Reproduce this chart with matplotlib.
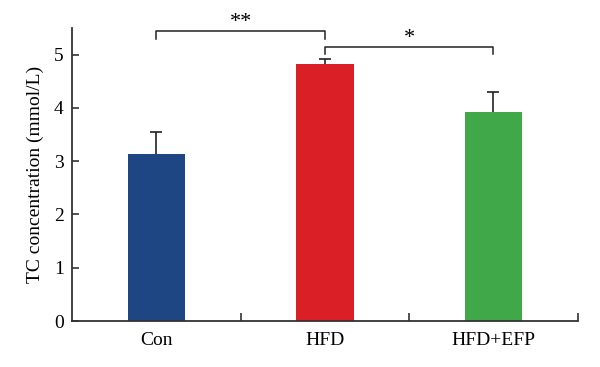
import matplotlib
matplotlib.use("Agg")
import matplotlib.pyplot as plt
import numpy as np

categories = ["Con", "HFD", "HFD+EFP"]
values = [3.13, 4.82, 3.93]
errors = [0.41, 0.09, 0.36]
colors = ["#1E4682", "#DA1F26", "#40A848"]
yticks = [0, 1, 2, 3, 4, 5]
ylabel = "TC concentration (mmol/L)"
sig_pairs = [(0, 1, 5.44, 5.30, "**"), (1, 2, 5.14, 5.02, "*")]

plt.rcParams['font.family'] = ['Liberation Serif', 'DejaVu Serif']
fig = plt.figure(figsize=(6.0, 3.67), dpi=100)
ax = fig.add_axes([0.12, 0.1253, 0.843, 0.7984])

x = np.arange(len(categories))
ax.bar(x, values, width=0.34, color=colors, zorder=2)
eb = ax.errorbar(x, values, yerr=[np.zeros(len(values)), errors], fmt='none',
                 ecolor='#222222', elinewidth=1.2, capsize=4, capthick=1.2, zorder=3)
eb[1][0].set_visible(False)

ax.set_xlim(-0.5, 2.5)
ax.set_ylim(0, 5.5)
ax.set_yticks(yticks)
ax.set_xticks(x)
ax.set_xticklabels(categories)
ax.set_xticks([0.5, 1.5, 2.5], minor=True)
ax.tick_params(axis='x', which='major', length=0, labelsize=14, pad=8)
ax.tick_params(axis='x', which='minor', direction='in', length=6, width=1.2, color='#333333')
ax.tick_params(axis='y', direction='in', length=5, width=1.2, color='#333333', labelsize=14, pad=6)
ax.set_ylabel(ylabel, fontsize=14, labelpad=7)

for s in ['top', 'right']:
    ax.spines[s].set_visible(False)
for s in ['left', 'bottom']:
    ax.spines[s].set_color('#333333')
    ax.spines[s].set_linewidth(1.3)

for a, b, ytop, yend, label in sig_pairs:
    ax.plot([a, a, b, b], [yend, ytop, ytop, yend], color='#222222', lw=1.1, clip_on=False)
    ax.text((a + b) / 2, ytop - 0.02, label, ha='center', va='bottom', fontsize=16, clip_on=False)

fig.savefig("out.png", dpi=100)
